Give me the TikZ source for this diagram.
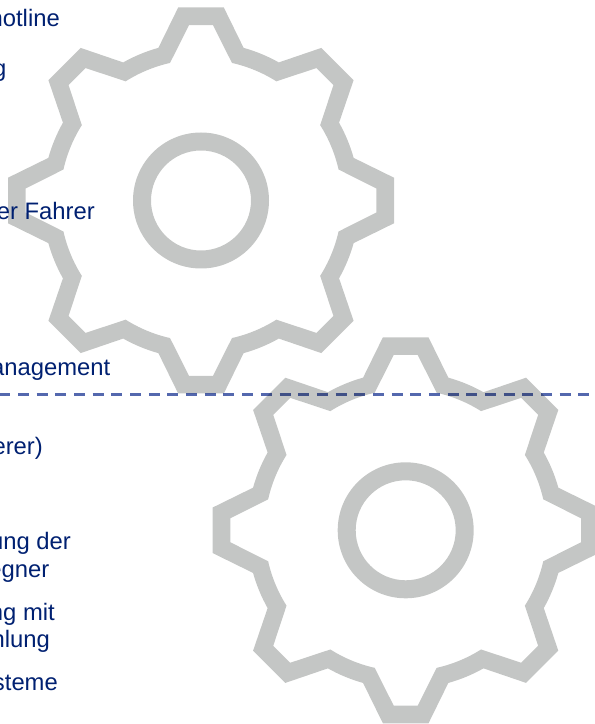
\documentclass[tikz,border=0pt]{standalone}
\usepackage{fontspec}
\setmainfont{Liberation Sans}
\usepackage{tikz}
\definecolor{gearcol}{RGB}{196,198,197}
\definecolor{textcol}{RGB}{0,32,113}
\definecolor{linecol}{RGB}{84,104,174}
\tikzset{
	lbl/.style={anchor=base east,inner sep=0pt,text=textcol,font=\fontsize{23.8}{27}\selectfont},
	gearwheel/.pic={
		\fill[gearcol,even odd rule]
			(0,68) arc[start angle=90,end angle=450,radius=68]
			(0,50) arc[start angle=90,end angle=450,radius=50]
			(-22.8,-193)
			foreach \a in {0,45,...,315} {
				-- ([rotate=\a]-22.8,-193) -- ([rotate=\a]22.8,-193)
				-- ([rotate=\a]-74.4:158.5) arc[start angle=\a-74.4,end angle=\a-60.6,radius=158.5]
			} -- cycle
			(-12,-175.3)
			foreach \a in {0,45,...,315} {
				-- ([rotate=\a]-12,-175.3) -- ([rotate=\a]12,-175.3)
				-- ([rotate=\a]-77.3:141) arc[start angle=\a-77.3,end angle=\a-57.7,radius=141]
			} -- cycle;
	}
}
\begin{document}
\begin{tikzpicture}[x=1pt,y=1pt]
	\path[use as bounding box,clip] (0,0) rectangle (595,724);
	% gears, y counted from the bottom
	\pic (upper) at (201,523.5) {gearwheel};
	\pic (lower) at (405.7,193.7) {gearwheel};
	% upper labels
	\node (hotline) at (60,697.5)[lbl]{hotline};
	\node (restg) at (6.5,647.5)[lbl]{g};
	\node (fahrer) at (95,504.5)[lbl]{er Fahrer};
	\node (management) at (110.5,348)[lbl]{anagement};
	% lower labels
	\node (erer) at (43,269.5)[lbl]{erer)};
	\node (ungder) at (71,174)[lbl]{ung der};
	\node (egner) at (49.5,146.5)[lbl]{egner};
	\node (ngmit) at (55,103)[lbl]{ng mit};
	\node (hlung) at (50,76.5)[lbl]{hlung};
	\node (steme) at (58,33.5)[lbl]{steme};
	% divider
	\coordinate (divstart) at (-0.68,329.3);
	\coordinate (divend) at (589,329.3);
	\draw[linecol,blend mode=multiply,line width=2.6pt,dash pattern=on 11pt off 7.68pt] (divstart) -- (divend);
\end{tikzpicture}
\end{document}
